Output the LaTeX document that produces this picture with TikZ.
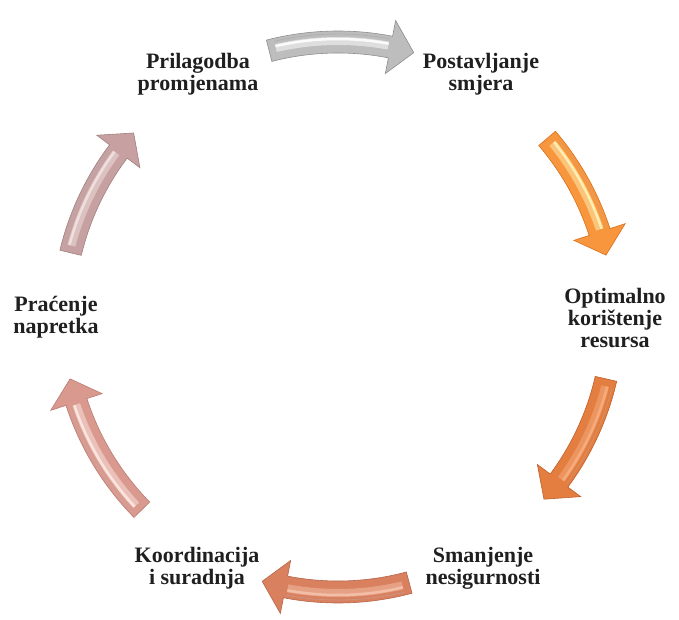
\documentclass[tikz,border=0pt]{standalone}
\usepackage{fontspec}
\setmainfont{Liberation Serif}
\definecolor{gA}{HTML}{BDBDBD}\definecolor{gAl}{HTML}{FFFFFF}\definecolor{gAd}{HTML}{8E8E8E}
\definecolor{oA}{HTML}{F7963C}\definecolor{oAl}{HTML}{FFF3B8}\definecolor{oAd}{HTML}{D9701E}
\definecolor{oB}{HTML}{E37D40}\definecolor{oBl}{HTML}{F6AE80}\definecolor{oBd}{HTML}{C2612A}
\definecolor{sA}{HTML}{D9805F}\definecolor{sAl}{HTML}{F4C2AC}\definecolor{sAd}{HTML}{B8654A}
\definecolor{pA}{HTML}{D9998E}\definecolor{pAl}{HTML}{FCE8E3}\definecolor{pAd}{HTML}{B97C72}
\definecolor{mA}{HTML}{C7A1A1}\definecolor{mAl}{HTML}{F2E2E2}\definecolor{mAd}{HTML}{A08080}
\newcommand\cycarrow[5]{%
  \pgfmathsetmacro\cyd{(#2>#1)?1:-1}%
  \pgfmathsetmacro\cyah{#2-\cyd*5}%
  \pgfmathsetmacro\cyhs{#1+\cyd*1.5}%
  \pgfmathsetmacro\cyhe{\cyah-\cyd*0.5}%
  \fill[#3, draw=#5, line width=0.6, line join=miter]
    (#1:286) arc[start angle=#1, end angle=\cyah, radius=286]
    -- (\cyah:302) -- (#2:275) -- (\cyah:248) -- (\cyah:264)
    arc[start angle=\cyah, end angle=#1, radius=264] -- cycle;
  \draw[#4, line width=8, opacity=0.5]
    (\cyhs:276) arc[start angle=\cyhs, end angle=\cyhe, radius=276];
  \draw[#4, line width=2.5, opacity=0.9]
    (\cyhs:278) arc[start angle=\cyhs, end angle=\cyhe, radius=278];
  \draw[#5!70!white, line width=0.8]
    (\cyhs:283) arc[start angle=\cyhs, end angle=\cyhe, radius=283];
}
\tikzset{lbl/.style={font=\bfseries\fontsize{22}{22}\selectfont, align=center, inner sep=0pt, text=black!88}}
\begin{document}
\begin{tikzpicture}[x=1pt,y=1pt]
\useasboundingbox (-338,-303) rectangle (341,317);
\cycarrow{104.5}{74}{gA}{gAl}{gAd}
\cycarrow{40.5}{13}{oA}{oAl}{oAd}
\cycarrow{-13}{-41.5}{oB}{oBl}{oBd}
\cycarrow{-75}{-106}{sA}{sAl}{sAd}
\cycarrow{-135.5}{-167}{pA}{pAl}{pAd}
\cycarrow{166.5}{138}{mA}{mAl}{mAd}
\node[lbl] (prilagodba) at (-140,243) {Prilagodba\\promjenama};
\node[lbl] (postavljanje) at (143,243) {Postavljanje\\smjera};
\node[lbl] (optimalno) at (277,-1) {Optimalno\\korištenje\\resursa};
\node[lbl] (smanjenje) at (145,-251) {Smanjenje\\nesigurnosti};
\node[lbl] (koordinacija) at (-141,-251) {Koordinacija\\i suradnja};
\node[lbl] (pracenje) at (-282,0) {Praćenje\\napretka};
\end{tikzpicture}
\end{document}
